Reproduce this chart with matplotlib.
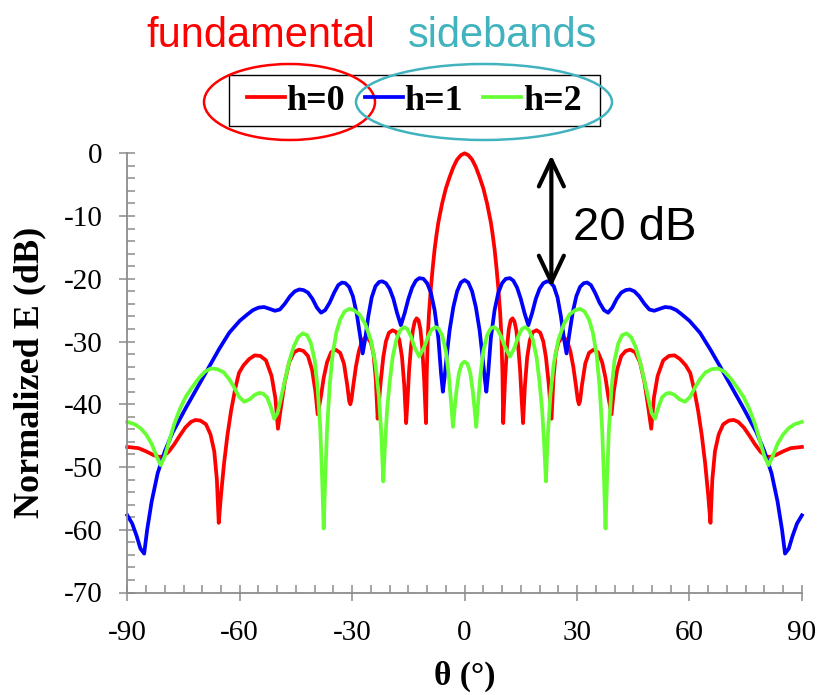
import numpy as np
import matplotlib
matplotlib.use("Agg")
import matplotlib.pyplot as plt
from matplotlib.patches import Ellipse, Rectangle
from matplotlib.ticker import MultipleLocator

plt.rcParams["axes.unicode_minus"] = False

# Normalized patterns for theta >= 0 (deg, dB).
# The patterns are symmetric about broadside, so the negative side is the mirror.
TH_H0 = [0, 1, 2, 3, 4, 5, 6, 7, 7.5, 8, 8.5, 9, 9.5, 9.8, 10.1, 10.3,
         10.8, 11.3, 11.8, 12.3, 12.8, 13.3, 13.8, 14.3, 14.8, 15.2, 15.6,
         16.1, 16.7, 17.4, 18.2, 19.2, 20.2, 21.0, 21.7, 22.4, 22.9, 23.2,
         23.7, 24.3, 25.0, 25.8, 26.6, 27.4, 28.2, 29.0, 29.7, 30.2, 30.5, 30.8,
         31.3, 32.2, 33.2, 34.4, 35.6, 36.7, 37.6, 38.4, 39.2,
         39.8, 40.7, 41.8, 43.0, 44.2, 45.5, 46.8, 48.0, 49.0, 49.8,
         50.5, 51.5, 53.0, 54.5, 56.0, 57.5, 59.0, 60.2, 61.2, 62.3, 63.3, 64.2, 65.0, 65.6,
         66.1, 66.8, 67.8, 69.0, 70.5, 71.8, 73.0, 74.5, 76.0, 77.5, 79.0, 80.5, 81.5,
         83.0, 85.0, 87.0, 90.0]
E_H0 = [0, -0.3, -1.0, -2.2, -3.8, -5.6, -8.0, -11.0, -13.0, -15.3, -18.2, -21.5, -25.5, -29.0, -35.0, -43.0,
        -36.0, -31.0, -28.0, -26.6, -26.3, -26.8, -28.2, -30.8, -34.5, -39.0, -43.0,
        -37.0, -32.5, -29.8, -28.5, -28.2, -28.6, -30.0, -32.5, -36.5, -40.0, -42.3,
        -36.0, -32.0, -30.2, -29.5, -29.4, -30.0, -31.5, -34.0, -37.0, -39.3, -40.0, -39.5,
        -37.0, -33.5, -31.8, -31.3, -31.7, -33.3, -35.8, -39.0, -41.6,
        -38.0, -34.5, -32.3, -31.5, -31.3, -31.7, -33.3, -36.5, -40.5, -43.9,
        -39.0, -35.5, -33.0, -32.3, -32.2, -32.8, -33.8, -35.0, -37.5, -41.0, -45.0, -49.5, -54.5, -58.9,
        -52.0, -47.5, -44.8, -43.2, -42.6, -42.5, -42.8, -43.7, -45.0, -46.4, -47.6, -48.3, -48.4,
        -48.1, -47.5, -47.0, -46.8]

TH_H1 = [0, 1, 2, 3, 4, 4.8, 5.4, 5.8, 6.3, 7, 8, 9, 10, 11, 12.1, 13, 14, 15, 16, 17,
         18, 19, 20, 21, 22, 22.8, 23.8, 24.8, 25.7, 26.5, 27.2, 27.9, 28.8, 29.8, 30.8,
         31.8, 32.7, 33.7, 34.8, 36.0, 37.2, 38.3, 39.4, 40.6, 41.8, 43.0, 44.1, 45.3,
         46.6, 48.0, 49.3, 50.6, 52.0, 53.5, 55.0, 56.5, 58.0, 60.0, 62.8, 65.5, 68.2,
         71.0, 74.4, 77.9, 80.0, 81.9, 83.5, 84.7, 85.5, 86.5, 87.5, 88.7, 90.0]
E_H1 = [-20.2, -20.6, -22.0, -24.5, -28.2, -32.5, -36.0, -38.0, -35.0, -29.5, -25.0, -22.2, -20.7, -20.0, -19.9,
        -20.3, -21.4, -23.2, -25.5, -27.4,
        -25.5, -23.2, -21.6, -20.7, -20.4, -20.5, -21.2, -23.0, -26.0, -29.5, -31.9, -29.0, -25.5, -22.8, -21.3,
        -20.7, -20.6, -21.0, -22.2, -23.8, -25.0, -25.4, -24.6, -23.2, -22.2, -21.8, -21.7, -22.0,
        -22.8, -24.0, -24.9, -25.1, -24.8, -24.5, -24.6, -25.0, -25.7, -26.7, -28.6, -31.2, -34.0,
        -37.0, -40.6, -44.5, -47.5, -51.0, -55.5, -60.0, -63.8, -63.0, -61.0, -59.0, -57.7]

TH_H2 = [0, 0.8, 1.5, 2.2, 2.7, 3.1, 3.5, 4.2, 5, 6, 7, 7.8, 8.8, 9.8, 10.8, 12.1, 13.3, 14.3,
         15.3, 16.2, 17.2, 18.2, 19.2, 20.0, 20.7, 21.2, 21.7, 22.2, 22.9, 23.8, 25.0, 26.5,
         28.0, 29.5, 30.8, 32.0, 33.2, 34.2, 35.2, 36.0, 36.7, 37.2, 37.6, 38.0, 38.5, 39.2,
         40.0, 41.0, 42.0, 43.2, 44.4, 45.6, 46.8, 48.0, 49.0, 49.9, 50.8, 51.7, 52.7, 53.8,
         54.8, 56.0, 57.3, 58.8, 60.2, 61.5, 62.8, 64.3, 66.0, 67.7, 69.3, 71.0, 72.7, 74.4,
         76.0, 77.5, 78.8, 80.0, 81.1, 82.2, 83.5, 85.0, 86.5, 88.0, 90.0]
E_H2 = [-33.2, -33.6, -35.0, -38.0, -41.0, -43.6, -40.5, -35.5, -31.5, -29.0, -27.9, -27.7, -28.1, -29.3,
        -30.9, -32.4, -31.0, -29.2, -28.0, -27.7, -28.2, -29.7, -32.5, -36.5, -41.0, -46.0, -52.3,
        -45.0, -38.5, -33.5, -29.8, -27.2, -25.7, -25.0, -24.8, -25.2, -26.5, -28.5, -32.0, -37.0,
        -44.0, -52.0, -59.8, -52.0, -44.0, -37.5, -33.0, -30.3, -29.0, -28.7, -29.3, -30.8, -33.2,
        -36.3, -39.0, -41.4, -42.3, -40.5, -38.9, -38.3, -38.2, -38.5, -39.2, -39.6, -38.8, -37.3,
        -36.0, -34.9, -34.4, -34.3, -34.8, -35.9, -37.3, -38.8, -40.8, -43.2, -45.8, -48.3, -49.7,
        -48.3, -46.3, -44.8, -43.8, -43.2, -42.8]

LABELS = ["h=0", "h=1", "h=2"]
COLORS = ["#FF0000", "#0000FF", "#66FF33"]

SERIF = "Liberation Serif"
SANS = "Liberation Sans"
GREY = "#8C8C8C"


def mirror(th, e):
    th = np.asarray(th, float); e = np.asarray(e, float)
    return np.concatenate([-th[:0:-1], th]), np.concatenate([e[:0:-1], e])


W, H = 824, 695
fig = plt.figure(figsize=(W / 100, H / 100), dpi=100)
ax = fig.add_axes([127.3 / W, 1 - 592.5 / H, (801.9 - 127.3) / W, (592.5 - 153.3) / H])

for (th, e), lab, c in zip([(TH_H0, E_H0), (TH_H1, E_H1), (TH_H2, E_H2)], LABELS, COLORS):
    x, y = mirror(th, e)
    ax.plot(x, y, color=c, lw=2.7, label=lab, clip_on=False, solid_joinstyle="round")

ax.set_xlim(-90, 90); ax.set_ylim(-70, 0)
ax.set_xticks(range(-90, 91, 30)); ax.set_yticks(range(-70, 1, 10))
ax.xaxis.set_minor_locator(MultipleLocator(5)); ax.yaxis.set_minor_locator(MultipleLocator(2))
for sp in ("top", "right"): ax.spines[sp].set_visible(False)
for sp in ("left", "bottom"): ax.spines[sp].set_color(GREY); ax.spines[sp].set_linewidth(1.3)
ax.tick_params(which="major", direction="inout", length=12, width=1.1, color=GREY)
ax.tick_params(which="minor", direction="in", length=6, width=1.1, color=GREY)
ax.tick_params(axis="y", which="major", pad=12)
ax.tick_params(axis="x", which="major", pad=14)
for t in ax.get_xticklabels() + ax.get_yticklabels():
    t.set_fontfamily(SERIF); t.set_fontsize(21)

fig.text(30 / W, 1 - 372 / H, "Normalized E (dB)", rotation=90, ha="center", va="center",
         family=SERIF, weight="bold", fontsize=26)
fig.text(465 / W, 1 - 676 / H, "θ (°)", ha="center", va="center",
         family=SERIF, weight="bold", fontsize=24)

# 20 dB marker between main lobe and sideband peak
ax.annotate("", xy=(23.15, -0.3), xytext=(23.15, -21.3),
            arrowprops=dict(arrowstyle="<->, head_length=19, head_width=9", mutation_scale=1,
                            lw=3, color="black", shrinkA=0, shrinkB=0, capstyle="round", joinstyle="round"),
            annotation_clip=False)
fig.text(573 / W, 1 - 240 / H, "20 dB", ha="left", va="baseline", family=SANS, fontsize=34)

fig.text(261 / W, 1 - 47 / H, "fundamental", ha="center", va="baseline", family=SANS,
         fontsize=30, color="#FF0000")
fig.text(503 / W, 1 - 47 / H, "sidebands", ha="center", va="baseline", family=SANS,
         fontsize=30, color="#41B3BF")

h, l = ax.get_legend_handles_labels()
fig.legend(h, l, loc="center", bbox_to_anchor=(414 / W, 1 - 101 / H), ncol=3, frameon=False,
           prop=dict(family=SERIF, weight="bold", size=26), handlelength=1.05,
           handletextpad=0.05, columnspacing=0.55, borderpad=0)
fig.add_artist(Rectangle((229 / W, 1 - 126 / H), (600 - 229) / W, 51 / H, transform=fig.transFigure,
                         fill=False, ec="black", lw=1))
fig.add_artist(Ellipse((289.5 / W, 1 - 102 / H), 171 / W, 76 / H, transform=fig.transFigure,
                       fill=False, ec="#FF0000", lw=1.8))
fig.add_artist(Ellipse((484 / W, 1 - 102 / H), 256 / W, 76 / H, transform=fig.transFigure,
                       fill=False, ec="#41B3BF", lw=1.8))

fig.savefig("out.png", dpi=100, facecolor="white")
